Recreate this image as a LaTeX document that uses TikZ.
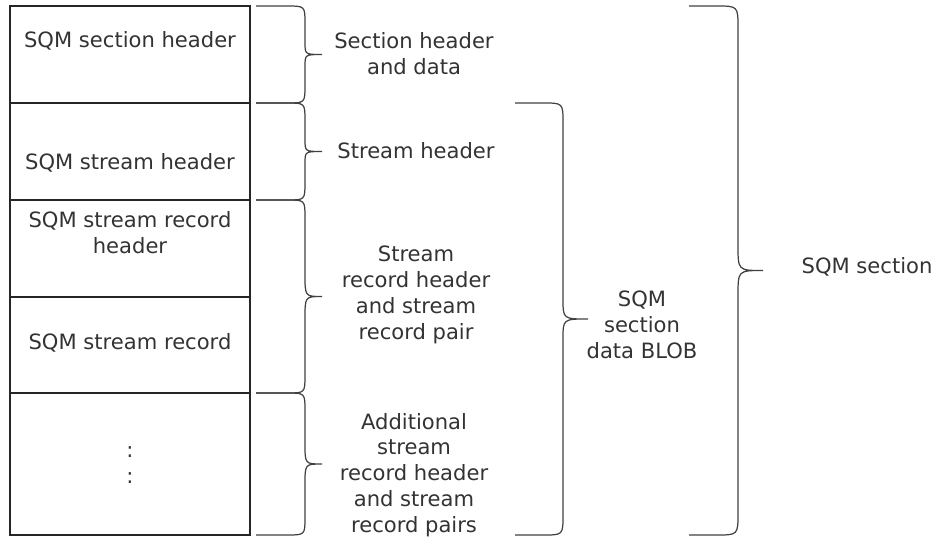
\documentclass[tikz,border=0pt]{standalone}
\usepackage{fontspec}
\setmainfont{DejaVu Sans}
\usepackage{tikz}
\usepackage{xcolor}

% brace: start x, spine x, tip x, top y, bottom y, corner size, tip size
\newcommand{\curlybrace}[7]{%
\draw[bracel] (#1,#4) -- ({#2-#6},#4) .. controls (#2,#4) .. (#2,{#4+#6})
  -- (#2,{(#4+#5)/2-#7}) .. controls (#2,{(#4+#5)/2}) .. (#3,{(#4+#5)/2})
  .. controls (#2,{(#4+#5)/2}) .. (#2,{(#4+#5)/2+#7})
  -- (#2,{#5-#6}) .. controls (#2,#5) .. ({#2-#6},#5) -- (#1,#5);}

\begin{document}
\begin{tikzpicture}[x=0.02cm, y=-0.02cm,
  every node/.style={font=\fontsize{12}{14.7}\selectfont, text=black!80},
  cell/.style={draw=black!85, line width=0.85pt, minimum width=4.8cm, inner sep=0pt, outer sep=0pt},
  lbl/.style={align=center, inner sep=1pt},
  bracel/.style={draw=black!75, line width=0.7pt}]
\useasboundingbox (0,0) rectangle (935,537);
% stacked layout
\node[cell, minimum height=1.94cm] (sechdr) at (130,54.5) {};
\node[cell, minimum height=1.94cm] (strhdr) at (130,151.5) {};
\node[cell, minimum height=1.94cm] (rechdr) at (130,248.5) {};
\node[cell, minimum height=1.92cm] (rec) at (130,345) {};
\node[cell, minimum height=2.84cm] (more) at (130,464) {};
\node[lbl] (sechdrtxt) at (130,41) {SQM section header};
\node[lbl] (strhdrtxt) at (130,163) {SQM stream header};
\node[lbl] (rechdrtxt) at (130,233) {SQM stream record\\header};
\node[lbl] (rectxt) at (130,343) {SQM stream record};
\node[lbl] (dotsa) at (130,452) {:};
\node[lbl] (dotsb) at (130,478) {:};
% braces
\curlybrace{256}{305}{322}{6}{103}{18}{12}
\curlybrace{256}{305}{322}{103}{200}{18}{12}
\curlybrace{256}{305}{322}{200}{393}{18}{22}
\curlybrace{256}{305}{322}{393}{535}{18}{20}
\curlybrace{515}{563}{588}{103}{535}{20}{20}
\curlybrace{689}{738}{763}{6}{535}{22}{25}
\node[lbl] (hdrdata) at (414,54) {Section header\\and data};
\node[lbl] (strhdrlbl) at (416,151) {Stream header};
\node[lbl] (recpair) at (416,295) {Stream\\record header\\and stream\\record pair};
\node[lbl] (addpairs) at (414,475) {Additional\\stream\\record header\\and stream\\record pairs};
\node[lbl] (blob) at (642,325) {SQM\\section\\data BLOB};
\node[lbl] (sqmsec) at (867,267) {SQM section};
\end{tikzpicture}
\end{document}
